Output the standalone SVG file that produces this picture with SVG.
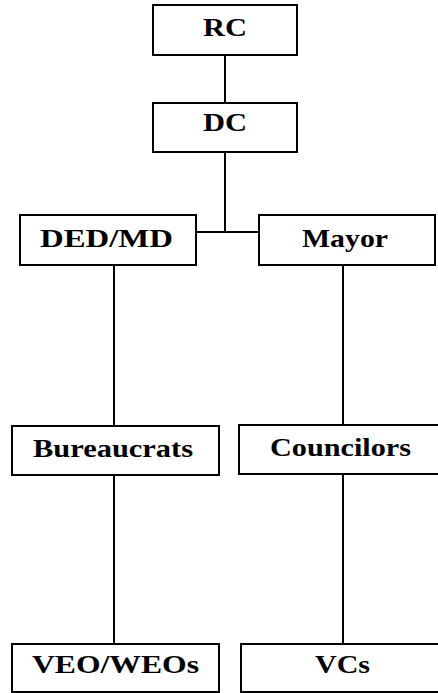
<svg xmlns="http://www.w3.org/2000/svg" width="438" height="693" viewBox="0 0 438 693">
<style>
.box{fill:#fff;stroke:#000;stroke-width:2}
.lbl{font-family:"Liberation Serif",serif;font-weight:bold;font-size:25px;fill:#000;text-anchor:middle}
.con{stroke:#000;stroke-width:2;fill:none}
</style>
<rect width="438" height="693" fill="#fff"/>
<g id="connectors">
<line class="con" x1="225" y1="55" x2="225" y2="103"/>
<line class="con" x1="225" y1="152" x2="225" y2="232"/>
<line class="con" x1="196" y1="232" x2="259" y2="232"/>
<line class="con" x1="114" y1="265" x2="114" y2="426"/>
<line class="con" x1="343" y1="265" x2="343" y2="425"/>
<line class="con" x1="114" y1="475" x2="114" y2="644"/>
<line class="con" x1="343" y1="474" x2="343" y2="644"/>
</g>
<g id="RC"><rect class="box" x="153" y="5" width="144" height="50"/><text class="lbl" x="225" y="36" textLength="44" lengthAdjust="spacingAndGlyphs">RC</text></g>
<g id="DC"><rect class="box" x="153" y="103" width="144" height="49"/><text class="lbl" x="225" y="131" textLength="44" lengthAdjust="spacingAndGlyphs">DC</text></g>
<g id="DEDMD"><rect class="box" x="20" y="215" width="176" height="50"/><text class="lbl" x="106.5" y="247" textLength="133" lengthAdjust="spacingAndGlyphs">DED/MD</text></g>
<g id="Mayor"><rect class="box" x="259" y="215" width="176" height="50"/><text class="lbl" x="345" y="247" textLength="86" lengthAdjust="spacingAndGlyphs">Mayor</text></g>
<g id="Bureaucrats"><rect class="box" x="12" y="426" width="207" height="49"/><text class="lbl" x="113" y="457" textLength="160" lengthAdjust="spacingAndGlyphs">Bureaucrats</text></g>
<g id="Councilors"><rect class="box" x="239" y="425" width="210" height="49"/><text class="lbl" x="340.5" y="456" textLength="141" lengthAdjust="spacingAndGlyphs">Councilors</text></g>
<g id="VEOWEOs"><rect class="box" x="12" y="644" width="207" height="48"/><text class="lbl" x="115.5" y="673" textLength="167" lengthAdjust="spacingAndGlyphs">VEO/WEOs</text></g>
<g id="VCs"><rect class="box" x="241" y="644" width="208" height="48"/><text class="lbl" x="342.5" y="673" textLength="55" lengthAdjust="spacingAndGlyphs">VCs</text></g>
</svg>
